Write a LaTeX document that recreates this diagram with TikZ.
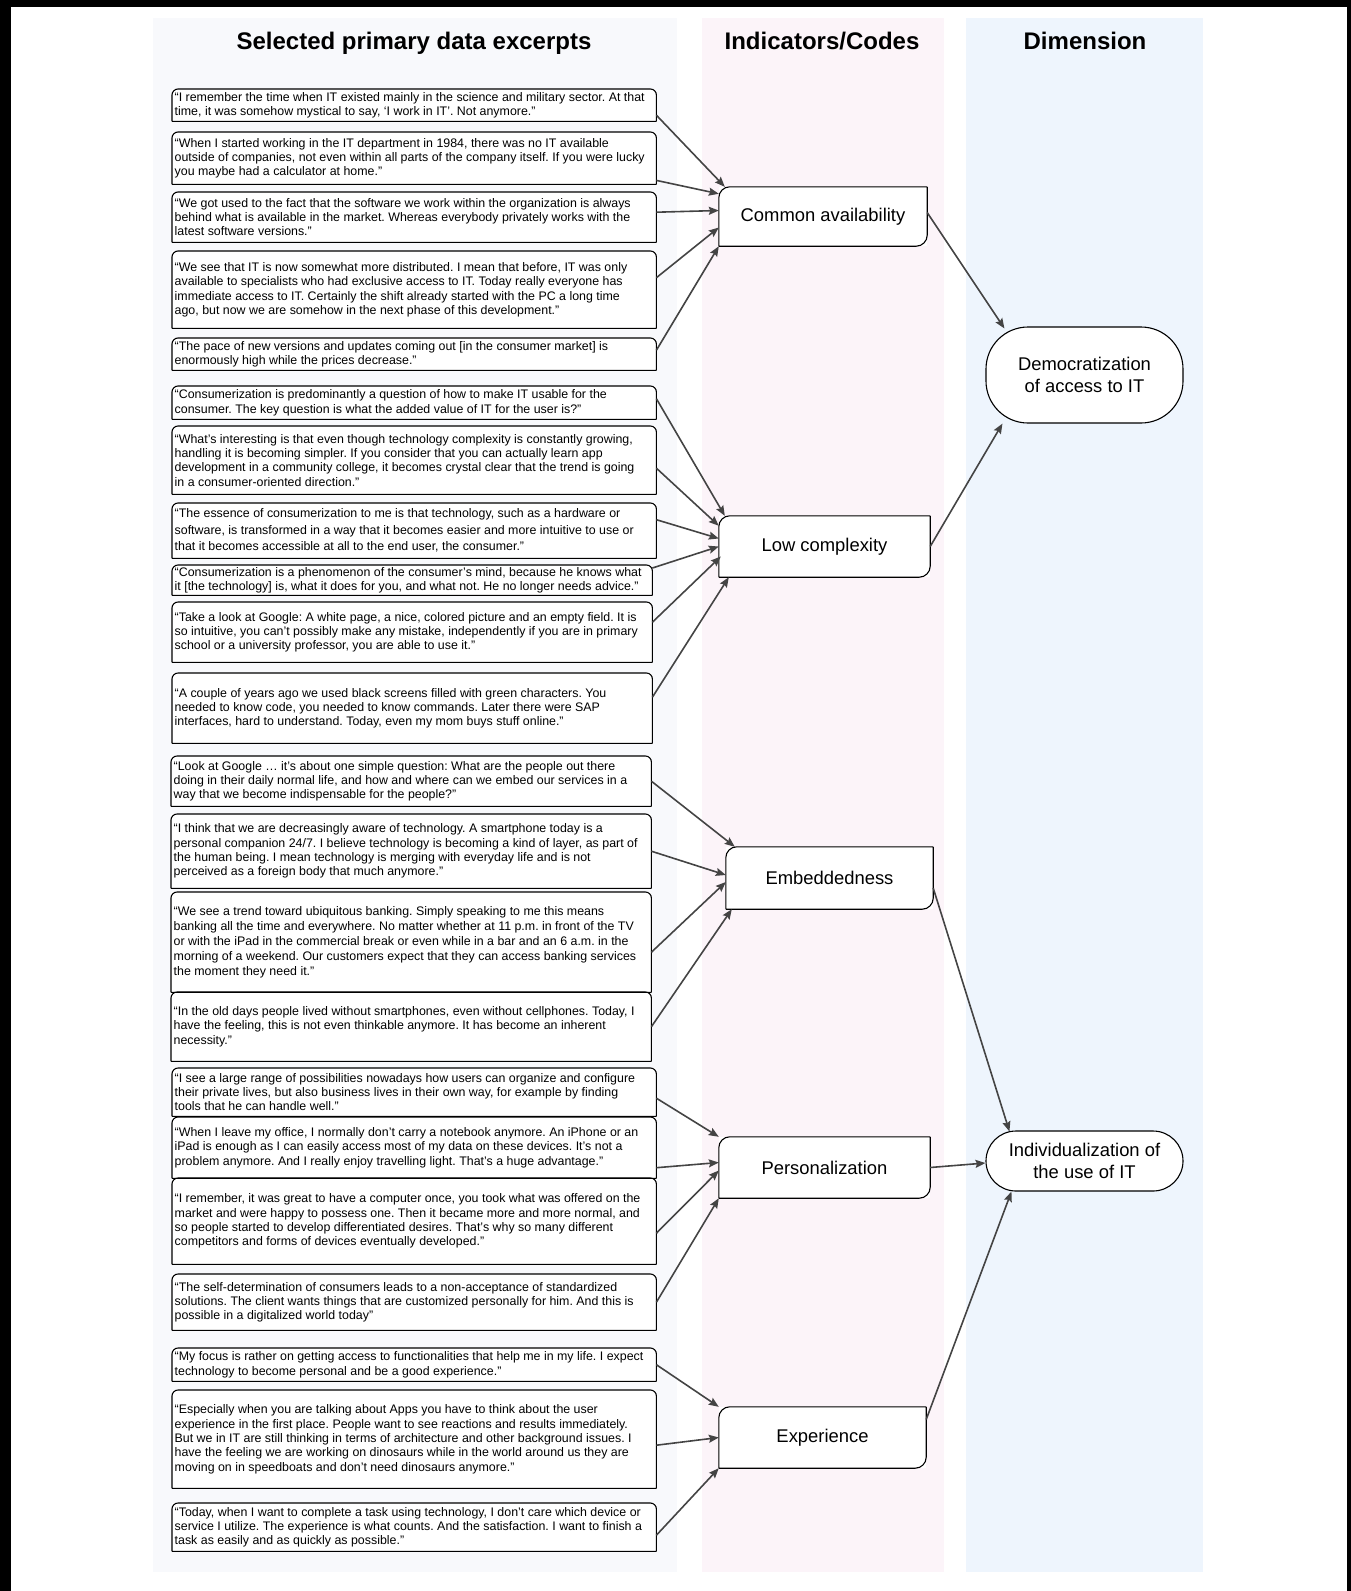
\documentclass[tikz,border=0pt]{standalone}
\usepackage{fontspec}
\setmainfont{Liberation Sans}
\usetikzlibrary{arrows.meta}
\frenchspacing

\definecolor{excerptbg}{HTML}{F8F9FC}
\definecolor{codebg}{HTML}{FCF4F9}
\definecolor{dimbg}{HTML}{EEF5FD}
\definecolor{linkgray}{HTML}{444444}

% frames: quotes round on top, codes round top left and bottom right
\newcommand{\excerptframe}[1]{\draw[line width=1.1pt, rounded corners=6pt] (#1.south west) -- (#1.north west) -- (#1.north east) -- (#1.south east) (#1.south west) -- (#1.south east);}
\newcommand{\codeframe}[1]{\draw[line width=1.1pt, rounded corners=11pt] (#1.south west) -- (#1.north west) -- (#1.north east) (#1.north east) -- (#1.south east) -- (#1.south west);}

\begin{document}
\begin{tikzpicture}[x=1pt, y=-1pt,
	excerpt/.style={fill=white, anchor=north west, inner sep=0pt, minimum width=484pt},
	excerpt narrow/.style={excerpt, minimum width=480pt},
	quotetext/.style={anchor=west, align=left, inner xsep=2.5pt, inner ysep=0pt, font=\fontsize{12.4}{14.3}\selectfont},
	code/.style={fill=white, minimum width=#1, minimum height=60pt, font=\fontsize{18.4}{22}\selectfont},
	dimension/.style={draw, line width=1.1pt, fill=white, minimum width=197pt, align=center, font=\fontsize{18.4}{22}\selectfont},
	heading/.style={anchor=base, font=\fontsize{24}{28}\selectfont\bfseries},
	link/.style={draw=linkgray, line width=1.6pt, -{Stealth[length=10pt, width=8pt, inset=1.5pt]}}]
	\useasboundingbox (0,0) rectangle (1351,1591);

	% columns
	\fill[excerptbg] (153,18) rectangle (677,1572);
	\fill[codebg] (702,18) rectangle (944,1572);
	\fill[dimbg] (966,18) rectangle (1203,1572);
	\fill (0,0) rectangle (1351,7);
	\fill (0,0) rectangle (11,1591);
	\fill (1347,0) rectangle (1351,1591);

	\node[heading] (h1) at (414,49) {Selected primary data excerpts};
	\node[heading] (h2) at (822,49) {Indicators/Codes};
	\node[heading] (h3) at (1085,49) {Dimension};

	% excerpts
	\node[excerpt, minimum height=32pt, label={[quotetext]west:{“I remember the time when IT existed mainly in the science and military sector. At that\\ time, it was somehow mystical to say, ‘I work in IT’. Not anymore.”}}] (q1) at (172,89) {};
	\node[excerpt, minimum height=52pt, label={[quotetext]west:{“When I started working in the IT department in 1984, there was no IT available\\ outside of companies, not even within all parts of the company itself. If you were lucky\\ you maybe had a calculator at home.”}}] (q2) at (172,132) {};
	\node[excerpt, minimum height=50pt, label={[quotetext]west:{“We got used to the fact that the software we work within the organization is always\\ behind what is available in the market. Whereas everybody privately works with the\\ latest software versions.”}}] (q3) at (172,192) {};
	\node[excerpt, minimum height=77pt, label={[quotetext]west:{“We see that IT is now somewhat more distributed. I mean that before, IT was only\\ available to specialists who had exclusive access to IT. Today really everyone has\\ immediate access to IT. Certainly the shift already started with the PC a long time\\ ago, but now we are somehow in the next phase of this development.”}}] (q4) at (172,251) {};
	\node[excerpt, minimum height=32pt, label={[quotetext]west:{“The pace of new versions and updates coming out [in the consumer market] is\\ enormously high while the prices decrease.”}}] (q5) at (172,338) {};
	\node[excerpt, minimum height=33pt, label={[quotetext]west:{“Consumerization is predominantly a question of how to make IT usable for the\\ consumer. The key question is what the added value of IT for the user is?”}}] (q6) at (172,386) {};
	\node[excerpt, minimum height=68pt, label={[quotetext]west:{“What’s interesting is that even though technology complexity is constantly growing,\\ handling it is becoming simpler. If you consider that you can actually learn app\\ development in a community college, it becomes crystal clear that the trend is going\\ in a consumer-oriented direction.”}}] (q7) at (172,426) {};
	\node[excerpt, minimum height=55pt, label={[quotetext, font=\fontsize{12.4}{16.5}\selectfont]west:{“The essence of consumerization to me is that technology, such as a hardware or\\ software, is transformed in a way that it becomes easier and more intuitive to use or\\ that it becomes accessible at all to the end user, the consumer.”}}] (q8) at (172,503) {};
	\node[excerpt narrow, minimum height=30pt, label={[quotetext]west:{“Consumerization is a phenomenon of the consumer’s mind, because he knows what\\ it [the technology] is, what it does for you, and what not. He no longer needs advice.”}}] (q9) at (172,565) {};
	\node[excerpt narrow, minimum height=60pt, label={[quotetext]west:{“Take a look at Google: A white page, a nice, colored picture and an empty field. It is\\ so intuitive, you can’t possibly make any mistake, independently if you are in primary\\ school or a university professor, you are able to use it.”}}] (q10) at (172,602) {};
	\node[excerpt narrow, minimum height=70pt, label={[quotetext]west:{“A couple of years ago we used black screens filled with green characters. You\\ needed to know code, you needed to know commands. Later there were SAP\\ interfaces, hard to understand. Today, even my mom buys stuff online.”}}] (q11) at (172,673) {};
	\node[excerpt narrow, minimum height=50pt, label={[quotetext]west:{“Look at Google … it’s about one simple question: What are the people out there\\ doing in their daily normal life, and how and where can we embed our services in a\\ way that we become indispensable for the people?”}}] (q12) at (171,756) {};
	\node[excerpt narrow, minimum height=74pt, label={[quotetext]west:{“I think that we are decreasingly aware of technology. A smartphone today is a\\ personal companion 24/7. I believe technology is becoming a kind of layer, as part of\\ the human being. I mean technology is merging with everyday life and is not\\ perceived as a foreign body that much anymore.”}}] (q13) at (171,814) {};
	\node[excerpt narrow, minimum height=100pt, label={[quotetext, font=\fontsize{12.4}{15}\selectfont]west:{“We see a trend toward ubiquitous banking. Simply speaking to me this means\\ banking all the time and everywhere. No matter whether at 11 p.m. in front of the TV\\ or with the iPad in the commercial break or even while in a bar and an 6 a.m. in the\\ morning of a weekend. Our customers expect that they can access banking services\\ the moment they need it.”}}] (q14) at (171,892) {};
	\node[excerpt narrow, minimum height=69pt, label={[quotetext]west:{“In the old days people lived without smartphones, even without cellphones. Today, I\\ have the feeling, this is not even thinkable anymore. It has become an inherent\\ necessity.”}}] (q15) at (171,992) {};
	\node[excerpt, minimum height=48pt, label={[quotetext]west:{“I see a large range of possibilities nowadays how users can organize and configure\\ their private lives, but also business lives in their own way, for example by finding\\ tools that he can handle well.”}}] (q16) at (172,1068) {};
	\node[excerpt, minimum height=61pt, label={[quotetext]west:{“When I leave my office, I normally don’t carry a notebook anymore. An iPhone or an\\ iPad is enough as I can easily access most of my data on these devices. It’s not a\\ problem anymore. And I really enjoy travelling light. That’s a huge advantage.”}}] (q17) at (172,1117) {};
	\node[excerpt, minimum height=86pt, label={[quotetext]west:{“I remember, it was great to have a computer once, you took what was offered on the\\ market and were happy to possess one. Then it became more and more normal, and\\ so people started to develop differentiated desires. That’s why so many different\\ competitors and forms of devices eventually developed.”}}] (q18) at (172,1178) {};
	\node[excerpt, minimum height=56pt, label={[quotetext]west:{“The self-determination of consumers leads to a non-acceptance of standardized\\ solutions. The client wants things that are customized personally for him. And this is\\ possible in a digitalized world today”}}] (q19) at (172,1274) {};
	\node[excerpt, minimum height=33pt, label={[quotetext]west:{“My focus is rather on getting access to functionalities that help me in my life. I expect\\ technology to become personal and be a good experience.”}}] (q20) at (172,1348) {};
	\node[excerpt, minimum height=98pt, label={[quotetext]west:{“Especially when you are talking about Apps you have to think about the user\\ experience in the first place. People want to see reactions and results immediately.\\ But we in IT are still thinking in terms of architecture and other background issues. I\\ have the feeling we are working on dinosaurs while in the world around us they are\\ moving on in speedboats and don’t need dinosaurs anymore.”}}] (q21) at (172,1390) {};
	\node[excerpt, minimum height=48pt, label={[quotetext]west:{“Today, when I want to complete a task using technology, I don’t care which device or\\ service I utilize. The experience is what counts. And the satisfaction. I want to finish a\\ task as easily and as quickly as possible.”}}] (q22) at (172,1503) {};
	\foreach \i in {1,...,22} {\excerptframe{q\i}}

	% indicators
	\node[code=208pt, minimum height=59pt] (avail) at (823,216.5) {Common availability};
	\node[code=211pt, minimum height=61pt] (lowcx) at (824.5,546.5) {Low complexity};
	\node[code=207pt, minimum height=62pt] (embed) at (829.5,878) {Embeddedness};
	\node[code=211pt, minimum height=61pt] (perso) at (824.5,1167.5) {Personalization};
	\node[code=207pt, minimum height=61pt] (exper) at (822.5,1437.5) {Experience};
	\foreach \c in {avail, lowcx, embed, perso, exper} {\codeframe{\c}}

	% dimensions
	\node[dimension, minimum height=96pt, rounded corners=42pt] (demo) at (1084.5,375) {Democratization\\ of access to IT};
	\node[dimension, minimum height=60pt, rounded corners=30pt] (indiv) at (1084.5,1161) {Individualization of\\ the use of IT};

	% excerpts to indicators
	\draw[link] ([yshift=-10pt]q1.east) -- ([xshift=6pt]avail.north west);
	\draw[link] ([yshift=4pt]q2.south east) -- ([yshift=-7pt]avail.north west);
	\draw[link] ([yshift=5pt]q3.east) -- ([yshift=6pt]avail.west);
	\draw[link] ([yshift=12pt]q4.east) -- ([yshift=-11pt]avail.west);
	\draw[link] ([yshift=4pt]q5.east) -- (avail.south west);

	\draw[link] ([yshift=4pt]q6.east) -- ([xshift=6pt]lowcx.north west);
	\draw[link] ([yshift=-8pt]q7.east) -- ([yshift=-10pt]lowcx.north west);
	\draw[link] ([yshift=11pt]q8.east) -- ([yshift=8pt]lowcx.west);
	\draw[link] ([yshift=-3pt]q9.north east) -- (lowcx.west);
	\draw[link] ([yshift=10pt]q10.east) -- ([xshift=2pt,yshift=-10pt]lowcx.west);
	\draw[link] ([yshift=11pt]q11.east) -- ([xshift=10pt]lowcx.south west);

	\draw[link] (q12.east) -- ([xshift=9pt]embed.north west);
	\draw[link] (q13.east) -- ([yshift=3pt]embed.west);
	\draw[link] ([yshift=-10pt]q14.east) -- ([yshift=-4pt]embed.west);
	\draw[link] (q15.east) -- ([xshift=6pt]embed.south west);

	\draw[link] ([yshift=-6pt]q16.east) -- (perso.north west);
	\draw[link] ([yshift=-20pt]q17.east) -- ([yshift=5pt]perso.west);
	\draw[link] ([yshift=-12pt]q18.east) -- ([yshift=-3pt]perso.west);
	\draw[link] (q19.east) -- (perso.south west);

	\draw[link] (q20.east) -- (exper.north west);
	\draw[link] ([yshift=-6pt]q21.east) -- (exper.west);
	\draw[link] ([yshift=-8pt]q22.east) -- (exper.south west);

	% indicators to dimensions
	\draw[link] ([yshift=4pt]avail.east) -- ([xshift=19pt,yshift=-2pt]demo.north west);
	\draw[link] (lowcx.east) -- ([xshift=17pt]demo.south west);
	\draw[link] ([yshift=-10pt]embed.east) -- ([xshift=24pt,yshift=-1pt]indiv.north west);
	\draw[link] (perso.east) -- ([yshift=-2pt]indiv.west);
	\draw[link] ([yshift=18pt]exper.east) -- ([xshift=26pt]indiv.south west);
\end{tikzpicture}
\end{document}
